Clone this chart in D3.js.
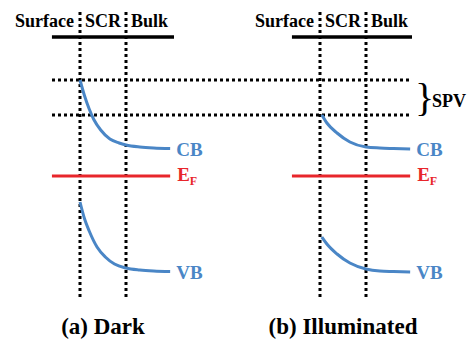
<!DOCTYPE html>
<html><head><meta charset="utf-8">
<script src="https://cdn.jsdelivr.net/npm/d3@7"></script>
<style>body{margin:0;background:#fff}svg{display:block}</style>
</head><body><svg id="c" width="467" height="340"></svg>
<script>
// ---- data ----
const regionLabels = ["Surface", "SCR", "Bulk"];
const panelTitles = ["(a) Dark", "(b) Illuminated"];
const bandLabels = ["CB", "VB"];
// position: 0 = surface, 1 = end of SCR, ~1.96 = bulk end
const cbDarkPos = [0, 0.1, 0.2, 0.3, 0.45, 0.65, 0.85, 1.0, 1.3, 1.6, 1.96];
const cbDark    = [1.92, 1.6, 1.34, 1.13, 0.92, 0.74, 0.66, 0.62, 0.58, 0.56, 0.55];
const vbDarkPos = [0, 0.1, 0.2, 0.37, 0.55, 0.75, 1.0, 1.3, 1.6, 1.96];
const vbDark    = [-0.52, -0.86, -1.1, -1.42, -1.62, -1.76, -1.84, -1.88, -1.9, -1.91];
const cbLightPos = [0.04, 0.15, 0.37, 0.65, 1.0, 1.3, 1.6, 1.96];
const cbLight    = [1.22, 1.06, 0.86, 0.68, 0.58, 0.56, 0.55, 0.54];
const vbLightPos = [0.04, 0.15, 0.37, 0.65, 1.0, 1.3, 1.6, 1.96];
const vbLight    = [-1.22, -1.36, -1.56, -1.74, -1.86, -1.9, -1.91, -1.92];
const fermi = 0;
const spvLevels = [1.92, 1.22];   // surface CB in dark and illuminated

// ---- layout ----
const svg = d3.select("#c");
const FONT = '"Liberation Serif", "Times New Roman", serif';
const txt = (sel, size) => sel.append("text").style("font-family", FONT)
  .style("font-weight", "bold").style("font-size", size + "px");
const y = d3.scaleLinear().domain([0, 1]).range([176, 126]);
const blue = "#4a86c6", red = "#e8262b";
const panels = [
  {x0: 80, cb: cbDark, cbPos: cbDarkPos, vb: vbDark, vbPos: vbDarkPos, title: panelTitles[0]},
  {x0: 320, cb: cbLight, cbPos: cbLightPos, vb: vbLight, vbPos: vbLightPos, title: panelTitles[1]}
];
const unit = 46;

spvLevels.forEach(v => {
  svg.append("line").attr("x1", 52).attr("x2", 412)
    .attr("y1", y(v)).attr("y2", y(v))
    .attr("stroke", "#000").attr("stroke-width", 3).attr("stroke-dasharray", "3,3");
});

panels.forEach((p, i) => {
  const x = d3.scaleLinear().domain([0, 1]).range([p.x0, p.x0 + unit]);
  svg.append("line").attr("x1", x(-0.61)).attr("x2", x(2.0) + (i ? 0 : 2))
    .attr("y1", 37).attr("y2", 37).attr("stroke", "#000").attr("stroke-width", 3.5);
  [0, 1].forEach(v => {
    svg.append("line").attr("x1", x(v)).attr("x2", x(v)).attr("y1", 12).attr("y2", 300)
      .attr("stroke", "#000").attr("stroke-width", 3).attr("stroke-dasharray", "3,3");
  });
  txt(svg, 18).attr("x", x(0) - 6).attr("y", 27).attr("text-anchor", "end").text(regionLabels[0]);
  txt(svg, 18).attr("x", x(0.5)).attr("y", 27).attr("text-anchor", "middle").text(regionLabels[1]);
  txt(svg, 18).attr("x", x(1) + 5).attr("y", 27).attr("text-anchor", "start").text(regionLabels[2]);
  svg.append("line").attr("x1", x(-0.61)).attr("x2", x(1.96))
    .attr("y1", y(fermi)).attr("y2", y(fermi)).attr("stroke", red).attr("stroke-width", 3);
  const line = d3.line().curve(d3.curveMonotoneX);
  [[p.cbPos, p.cb], [p.vbPos, p.vb]].forEach(([pos, vals]) => {
    svg.append("path")
      .attr("d", line(pos.map((q, k) => [x(q), y(vals[k])])))
      .attr("fill", "none").attr("stroke", blue).attr("stroke-width", 3);
  });
  txt(svg, 19).attr("x", x(1.96) + 6).attr("y", y(p.cb[p.cb.length - 1]) + 7).attr("fill", blue).text(bandLabels[0]);
  txt(svg, 19).attr("x", x(1.96) + 6).attr("y", y(p.vb[p.vb.length - 1]) + 7).attr("fill", blue).text(bandLabels[1]);
  const ef = txt(svg, 19).attr("x", x(1.96) + 7).attr("y", y(fermi) + 5).attr("fill", red);
  ef.append("tspan").text("E");
  ef.append("tspan").style("font-size", "12px").attr("dy", 4).text("F");
  txt(svg, 23).attr("x", x(0.5)).attr("y", 334).attr("text-anchor", "middle").text(p.title);
});

const yt = y(spvLevels[0]), yb = y(spvLevels[1]);
svg.append("text").style("font-family", FONT).style("font-size", "40px")
  .attr("x", 415).attr("y", yt + 31).text("}");
txt(svg, 18).attr("x", 432).attr("y", (yt + yb) / 2 + 9).text("SPV");
</script></body></html>
